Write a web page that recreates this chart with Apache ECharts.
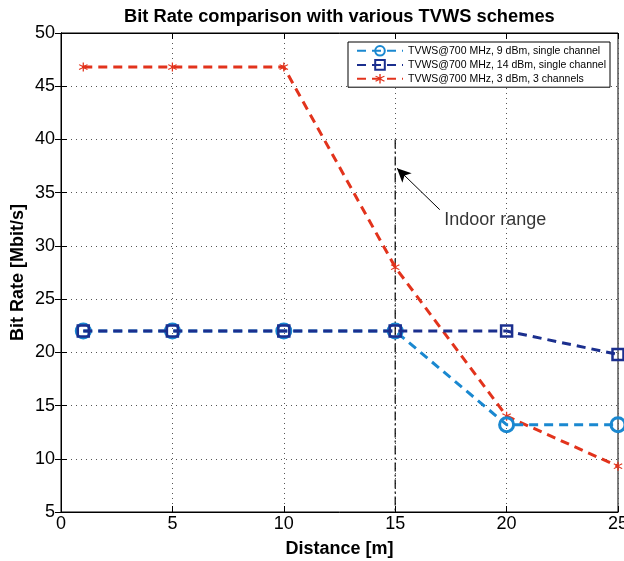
<!DOCTYPE html>
<html><head><meta charset="utf-8">
<script src="https://cdn.jsdelivr.net/npm/echarts@6/dist/echarts.min.js"></script>
<style>html,body{margin:0;padding:0;background:#fff}#c{width:624px;height:561px}</style>
</head><body><div id="c"></div>
<script>
const distances = [1, 5, 10, 15, 20, 25];
const s9dBm = [22, 22, 22, 22, 13.2, 13.2];
const s14dBm = [22, 22, 22, 22, 22, 19.8];
const s3dBm3ch = [46.8, 46.8, 46.8, 28, 14, 9.3];
const names = ['TVWS@700 MHz, 9 dBm, single channel', 'TVWS@700 MHz, 14 dBm, single channel', 'TVWS@700 MHz, 3 dBm, 3 channels'];
const indoorX = 15, indoorTop = 40, indoorBottom = 5;
const arrowFrom = [17.0, 33.4], arrowTo = [15.08, 37.3];
const labelPos = [17.2, 32.4];
const xTicks = [0, 25, 5];
const yTicks = [5, 50, 5];

const font = 'Liberation Sans, Arial, sans-serif';
const c1 = '#1a88d0', c2 = '#1b2f8e', c3 = '#e2331c';
const asterisk = 'path://M4.4 0H5.6V3.6L8.7 1.8L9.3 2.8L6.2 4.6V5.4L9.3 7.2L8.7 8.2L5.6 6.4V10H4.4V6.4L1.3 8.2L0.7 7.2L3.8 5.4V4.6L0.7 2.8L1.3 1.8L4.4 3.6Z';
const zip = (xs, ys) => xs.map((x, i) => [x, ys[i]]);

const chart = echarts.init(document.getElementById('c'), null, {renderer: 'canvas'});
const splitLine = {show: true, lineStyle: {color: '#555', type: [1, 4], width: 1}};
chart.setOption({
  animation: false,
  backgroundColor: '#fff',
  title: {text: 'Bit Rate comparison with various TVWS schemes', left: 119, top: 3,
    textStyle: {fontFamily: font, fontSize: 18.3, fontWeight: 'bold', color: '#000'}},
  grid: {left: 61, right: 6, top: 33, bottom: 49, show: true, borderColor: '#000', borderWidth: 1,
    containLabel: false, outerBoundsMode: 'none'},
  legend: {
    data: names, orient: 'vertical', right: 14, top: 42,
    backgroundColor: '#fff', borderColor: '#000', borderWidth: 1, borderRadius: 0,
    padding: [3, 4, 3, 8], itemGap: 2.5, itemWidth: 46, itemHeight: 12,
    textStyle: {fontFamily: font, fontSize: 10.5, color: '#000'}
  },
  xAxis: [{
    type: 'value', min: xTicks[0], max: xTicks[1], interval: xTicks[2],
    name: 'Distance [m]', nameLocation: 'middle', nameGap: 28, nameMoveOverlap: false,
    nameTextStyle: {fontFamily: font, fontSize: 18, fontWeight: 'bold', color: '#000'},
    axisLine: {show: true, onZero: false, lineStyle: {color: '#000'}},
    axisTick: {show: true, inside: true, length: 6, lineStyle: {color: '#000'}},
    axisLabel: {fontFamily: font, fontSize: 18, color: '#000', margin: 3},
    splitLine: splitLine
  }, {
    type: 'value', position: 'top', min: xTicks[0], max: xTicks[1], interval: xTicks[2],
    axisLine: {show: true, lineStyle: {color: '#000'}},
    axisTick: {show: true, inside: true, length: 6, lineStyle: {color: '#000'}},
    axisLabel: {show: false}, splitLine: {show: false}
  }],
  yAxis: [{
    type: 'value', min: yTicks[0], max: yTicks[1], interval: yTicks[2],
    name: 'Bit Rate [Mbit/s]', nameLocation: 'middle', nameGap: 34, nameMoveOverlap: false,
    nameTextStyle: {fontFamily: font, fontSize: 18, fontWeight: 'bold', color: '#000'},
    axisLine: {show: true, onZero: false, lineStyle: {color: '#000'}},
    axisTick: {show: true, inside: true, length: 6, lineStyle: {color: '#000'}},
    axisLabel: {fontFamily: font, fontSize: 18, color: '#000', margin: 6},
    splitLine: splitLine
  }, {
    type: 'value', position: 'right', min: yTicks[0], max: yTicks[1], interval: yTicks[2],
    axisLine: {show: true, lineStyle: {color: '#000'}},
    axisTick: {show: true, inside: true, length: 6, lineStyle: {color: '#000'}},
    axisLabel: {show: false}, splitLine: {show: false}
  }],
  series: [
    {
      name: 'indoor', type: 'line', data: [[indoorX, indoorTop], [indoorX, indoorBottom]],
      symbol: 'none', silent: true, z: 1,
      lineStyle: {color: '#000', width: 1.2, type: [9, 3, 2, 3]},
      markLine: {
        silent: true, symbol: ['none', 'arrow'], symbolSize: [10, 14],
        label: {show: false},
        lineStyle: {color: '#000', width: 1, type: 'solid'},
        data: [[{coord: arrowFrom}, {coord: arrowTo}]]
      }
    },
    {
      name: 'label', type: 'scatter', data: [labelPos], symbolSize: 0, silent: true,
      label: {show: true, position: 'right', distance: 0, formatter: 'Indoor range',
        fontFamily: font, fontSize: 18, color: '#000'}
    },
    {
      name: names[0], type: 'line', data: zip(distances, s9dBm), z: 4,
      symbol: 'circle', symbolSize: 14,
      itemStyle: {color: 'rgba(255,255,255,0)', borderColor: c1, borderWidth: 3},
      lineStyle: {color: c1, width: 3, type: [9, 6]}
    },
    {
      name: names[1], type: 'line', data: zip(distances, s14dBm), z: 5,
      symbol: 'rect', symbolSize: 11,
      itemStyle: {color: 'rgba(255,255,255,0)', borderColor: c2, borderWidth: 2.5},
      lineStyle: {color: c2, width: 3, type: [9, 6]}
    },
    {
      name: names[2], type: 'line', data: zip(distances, s3dBm3ch), z: 3,
      symbol: asterisk, symbolSize: 9,
      itemStyle: {color: c3},
      lineStyle: {color: c3, width: 3, type: [9, 6]}
    }
  ]
});
</script></body></html>
